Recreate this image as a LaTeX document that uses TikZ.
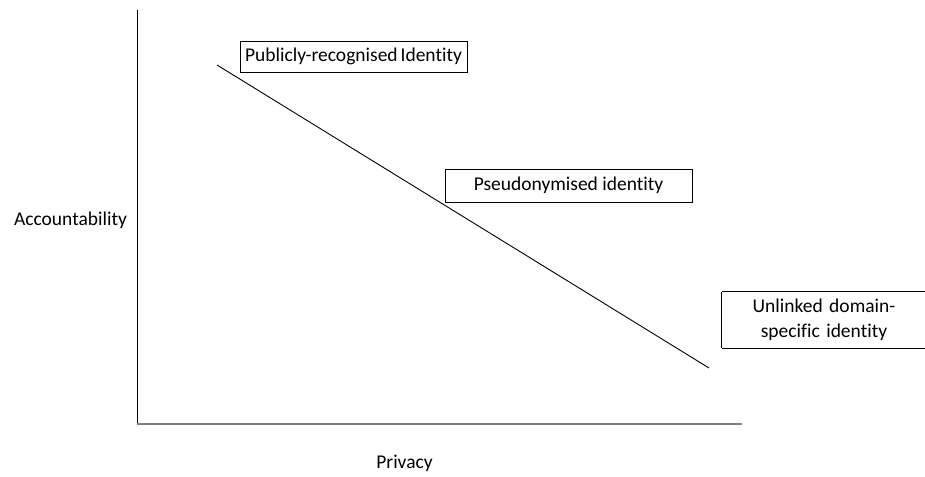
\documentclass[tikz,border=0pt]{standalone}
\usepackage{fontspec}
\setmainfont[Ligatures=NoCommon]{Carlito}
\begin{document}
\begin{tikzpicture}[x=1pt,y=-1pt,
  lbl/.style={font=\fontsize{19.5}{25}\selectfont, inner sep=0pt},
  idbox/.style={draw=black, line width=0.9pt, font=\fontsize{19.5}{25}\selectfont, inner sep=0pt, align=center},
  opentext/.style={font=\fontsize{19.5}{25}\selectfont, inner sep=0pt, align=center},
  boxedge/.style={line width=0.9pt},
  axisline/.style={line width=1pt},
  trend/.style={line width=0.9pt}]
\useasboundingbox (0,0) rectangle (925,476);
% axes
\coordinate (top) at (137,10);
\coordinate (origin) at (137,424);
\coordinate (xend) at (742,424);
\draw[axisline, black] (top) -- (origin);
\draw[axisline, gray, line width=1.6pt] (origin) -- (xend);
% trend line
\coordinate (tstart) at (217,65);
\coordinate (tend) at (709,368);
\draw[trend] (tstart) -- (tend);
% boxes
\node[idbox, minimum width=227pt, minimum height=31pt] (pub) at (353.5,56.5) {Publicly-recognised\hspace{-1.5pt} Identity};
\node[idbox, minimum width=247pt, minimum height=33pt] (pseudo) at (568.5,185.5) {Pseudonymised identity};
\node[opentext, minimum width=204pt, minimum height=56pt, text width=204pt] (unl) at (824,320) {Unlinked domain-\\specific identity};
\coordinate (unlne) at ([xshift=2pt]unl.north east);
\coordinate (unlse) at ([xshift=2pt]unl.south east);
\draw[boxedge] (unlne) -- (unl.north west);
\draw[boxedge] (unl.north west) -- (unl.south west);
\draw[boxedge] (unl.south west) -- (unlse);
% axis labels
\node[lbl] (acc) at (70.5,220) {Accountability};
\node[lbl] (priv) at (404.5,463) {Privacy};
\end{tikzpicture}
\end{document}
